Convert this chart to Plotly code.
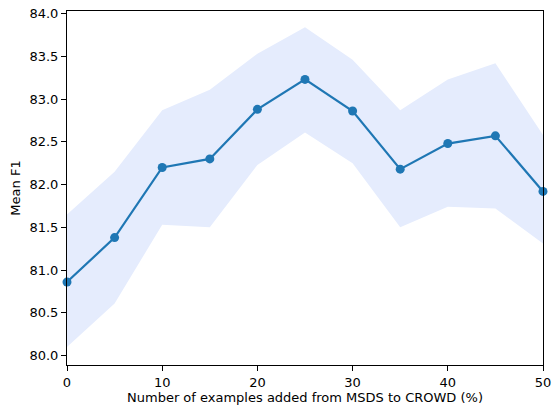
import plotly.graph_objects as go

x_pct = [0, 5, 10, 15, 20, 25, 30, 35, 40, 45, 50]
mean_f1 = [80.86, 81.38, 82.20, 82.30, 82.88, 83.23, 82.86, 82.18, 82.48, 82.57, 81.92]
upper_f1 = [81.65, 82.15, 82.87, 83.11, 83.53, 83.84, 83.46, 82.87, 83.23, 83.42, 82.58]
lower_f1 = [80.10, 80.61, 81.53, 81.50, 82.23, 82.61, 82.25, 81.50, 81.74, 81.72, 81.31]

x_ticks = [0, 10, 20, 30, 40, 50]
y_ticks = [80.0, 80.5, 81.0, 81.5, 82.0, 82.5, 83.0, 83.5, 84.0]

band_color = "#e5ecfd"
line_color = "#1f77b4"

fig = go.Figure()
fig.add_trace(go.Scatter(x=x_pct, y=lower_f1, mode="lines", line=dict(width=0, color=band_color),
                         showlegend=False, hoverinfo="skip"))
fig.add_trace(go.Scatter(x=x_pct, y=upper_f1, mode="lines", line=dict(width=0, color=band_color),
                         fill="tonexty", fillcolor=band_color, showlegend=False, hoverinfo="skip"))
fig.add_trace(go.Scatter(x=x_pct, y=mean_f1, mode="lines+markers",
                         line=dict(color=line_color, width=2.2),
                         marker=dict(color=line_color, size=9),
                         showlegend=False, cliponaxis=False))

font = dict(family="DejaVu Sans", size=13, color="black")
fig.update_layout(
    width=553, height=406,
    margin=dict(l=67, r=10, t=11, b=41),
    paper_bgcolor="white", plot_bgcolor="white",
    font=font,
)
fig.update_xaxes(
    range=[0, 50], tickvals=x_ticks, ticktext=[str(v) for v in x_ticks],
    showgrid=False, zeroline=False, showline=True, linecolor="black", linewidth=1, mirror=True,
    ticks="outside", ticklen=5, tickcolor="black", tickfont=font, automargin=False,
    ticklabeloverflow="allow",
    title=dict(text="Number of examples added from MSDS to CROWD (%)", font=font, standoff=4),
)
fig.update_yaxes(
    range=[79.89, 84.03], tickvals=y_ticks, ticktext=[f"{v:.1f}" for v in y_ticks],
    showgrid=False, zeroline=False, showline=True, linecolor="black", linewidth=1, mirror=True,
    ticks="outside", ticklen=5, tickcolor="black", tickfont=font, automargin=False,
    ticklabeloverflow="allow",
    title=dict(text="Mean F1", font=font, standoff=5),
)

fig.write_html("out.html", config={"displayModeBar": False},
               post_script="document.body.style.margin='0';")
